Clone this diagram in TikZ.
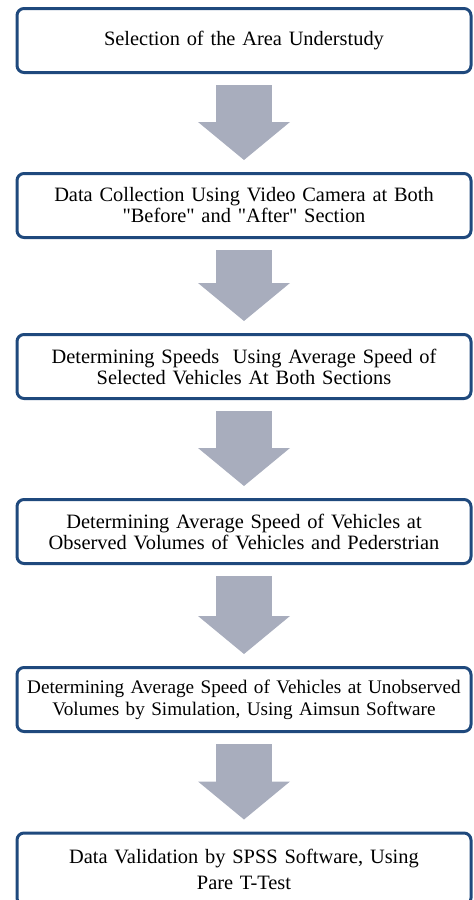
\documentclass[tikz,border=0pt]{standalone}
\usepackage{fontspec}
\setmainfont{Liberation Serif}
\usetikzlibrary{positioning, arrows.meta}
\definecolor{boxblue}{RGB}{31,73,125}
\definecolor{arrowgray}{RGB}{168,173,189}

\begin{document}
\begin{tikzpicture}[x=0.5pt, y=-0.5pt]
	\tikzstyle{stage}=[rectangle, draw=boxblue, line width=1.5pt, rounded corners=3.5pt, minimum width=227pt, minimum height=32pt, inner sep=0pt, text width=222pt, align=center, font=\fontsize{10.2}{10.5}\selectfont, node distance=82.5pt]
	\tikzstyle{bigarrow}=[draw=arrowgray, line width=28pt, -{Triangle[width=46pt, length=19pt, line width=0pt, fill=arrowgray]}, shorten <=5.5pt, shorten >=6pt]
	\useasboundingbox (0,0) rectangle (473,900);
	\clip (0,0) rectangle (473,900);
	\node[stage] (area) at (244,40.5) {Selection of the Area Understudy};
	\node[stage] (collect) [below of=area] {Data Collection Using Video Camera at Both\\ \textquotedbl Before\textquotedbl{} and \textquotedbl After\textquotedbl{} Section};
	\node[stage] (speeds) [below of=collect, yshift=2pt] {Determining Speeds\ \ Using Average Speed of\\ Selected Vehicles At Both Sections};
	\node[stage] (observed) [below of=speeds] {Determining Average Speed of Vehicles at\\ Observed Volumes of Vehicles and Pederstrian};
	\node[stage, font=\fontsize{9.6}{11}\selectfont] (simulated) [below of=observed, yshift=-1.5pt] {Determining Average Speed of Vehicles at Unobserved\\ Volumes by Simulation, Using Aimsun Software};
	\node[stage, minimum height=36pt, font=\fontsize{10.2}{13}\selectfont] (validate) [below of=simulated, yshift=-2.25pt] {Data Validation by SPSS Software, Using\\ Pare T-Test};
	\path (area) edge [bigarrow] (collect)
	(collect) edge [bigarrow] (speeds)
	(speeds) edge [bigarrow] (observed)
	(observed) edge [bigarrow] (simulated)
	(simulated) edge [bigarrow] (validate);
\end{tikzpicture}
\end{document}
